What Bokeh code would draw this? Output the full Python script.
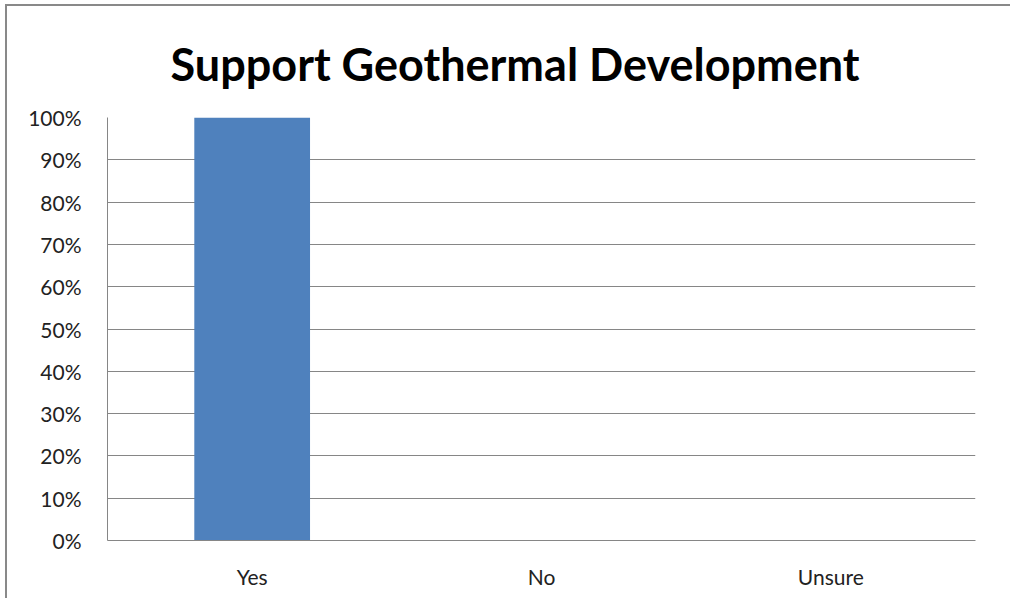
from bokeh.plotting import figure
from bokeh.models import NumeralTickFormatter, FixedTicker, Title
from bokeh.embed import file_html
from bokeh.resources import INLINE

categories = ["Yes", "No", "Unsure"]
values = [1.0, 0.0, 0.0]
y_ticks = [0.0, 0.1, 0.2, 0.3, 0.4, 0.5, 0.6, 0.7, 0.8, 0.9, 1.0]
title_text = "Support Geothermal Development"

p = figure(x_range=categories, y_range=(0, 1), width=1005, height=594,
           output_backend="svg", toolbar_location=None,
           min_border_left=100, min_border_right=37, min_border_top=111, min_border_bottom=60)
p.styles = {"border-left": "2px solid #898989", "border-top": "2px solid #898989",
            "margin-left": "5px", "margin-top": "4px"}

p.vbar(x=categories, top=values, width=0.4, color="#4F81BD", line_color=None)

t = Title(text=title_text, align="left", offset=63, standoff=54,
          text_font="Lato", text_font_size="45px", text_font_style="bold", text_color="#000000")
p.add_layout(t, "above")

p.outline_line_color = None
p.background_fill_color = "white"
p.border_fill_color = "white"

p.xgrid.grid_line_color = None
p.ygrid.grid_line_color = "#868686"
p.ygrid.grid_line_width = 1
p.ygrid.ticker = FixedTicker(ticks=y_ticks)

p.yaxis.ticker = FixedTicker(ticks=y_ticks)
p.yaxis.formatter = NumeralTickFormatter(format="0%")
for ax in (p.xaxis, p.yaxis):
    ax.axis_line_color = "#868686"
    ax.axis_line_width = 1
    ax.major_tick_line_color = None
    ax.minor_tick_line_color = None
    ax.major_label_text_font = "Lato"
    ax.major_label_text_font_size = "21px"
    ax.major_label_text_color = "#222222"
p.yaxis.major_label_standoff = 20
p.xaxis.major_label_standoff = 17

open("out.html", "w").write(file_html(p, INLINE))
